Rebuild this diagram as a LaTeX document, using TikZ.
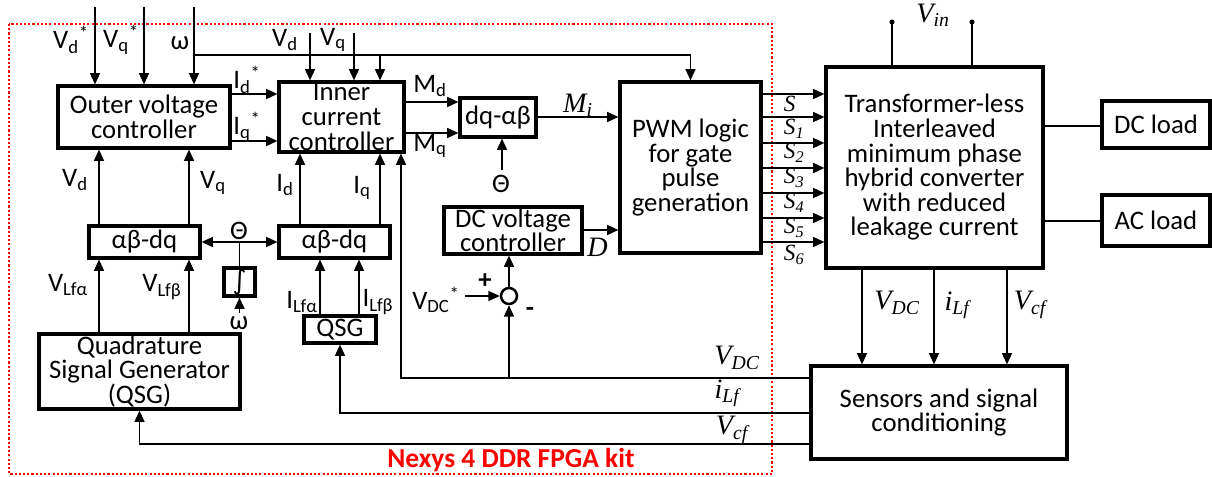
\documentclass[tikz,border=0pt]{standalone}
\usepackage{fontspec}
\setmainfont{Carlito}
\newfontfamily\tnr{Liberation Serif}
\newfontfamily\dejavu{DejaVu Sans}
\usepackage{xcolor}
\definecolor{Kit}{HTML}{FF0000}
\usepackage{tikz}
\usetikzlibrary{arrows.meta}
\newcommand{\ml}[3][20]{{\tnr\itshape\fontsize{#1}{#1}\selectfont #2\textsubscript{#3}}}

\begin{document}
\begin{tikzpicture}[x=0.025cm,y=-0.025cm,line width=1.3pt,
  font=\fontsize{19}{17.5}\selectfont,
  blk/.style={draw,line width=2.2pt,align=center,inner sep=0pt},
  arr/.style={-{Triangle[length=8pt,width=7pt]}},
  lbl/.style={inner sep=0pt}]
\useasboundingbox (0,0) rectangle (1212,477);
% FPGA kit frame
\draw[Kit,line width=1.5pt,dash pattern=on 1.5pt off 1.5pt] (9,24) rectangle (772,474);
\node[lbl,Kit,font=\fontsize{19.5}{19}\selectfont\bfseries] (kit) at (511,460) {Nexys 4 DDR FPGA kit};
% blocks
\node[blk,minimum width=4.3cm,minimum height=1.55cm] (outer) at (144,117) {Outer voltage\\controller};
\node[blk,minimum width=3.125cm,minimum height=1.75cm] (inner) at (341.5,117) {Inner\\current\\controller};
\node[blk,minimum width=1.9cm,minimum height=0.975cm] (dqab) at (498,117.5) {dq-αβ};
\node[blk,minimum width=3.525cm,minimum height=4.275cm] (pwm) at (690.5,167.5) {PWM logic\\for gate\\pulse\\generation};
\node[blk,minimum width=3.45cm,minimum height=1.175cm] (dcv) at (513,230.5) {DC voltage\\controller};
\node[draw,circle,line width=1.8pt,minimum size=0.4cm,inner sep=0pt] (sum) at (509,296) {};
\node[blk,minimum width=5.425cm,minimum height=5.025cm] (conv) at (934.5,167.5) {Transformer-less\\Interleaved\\minimum phase\\hybrid converter\\with reduced\\leakage current};
\node[blk,minimum width=2.7cm,minimum height=1.175cm] (dcload) at (1156,124.5) {DC load};
\node[blk,minimum width=2.7cm,minimum height=1.275cm] (acload) at (1156,220.5) {AC load};
\node[blk,minimum width=6.4cm,minimum height=2.325cm] (sens) at (939,412.5) {Sensors and signal\\conditioning};
\node[blk,minimum width=2.775cm,minimum height=0.8cm] (abdqv) at (144.5,242) {αβ-dq};
\node[blk,minimum width=2.775cm,minimum height=0.8cm] (abdqi) at (334.5,242) {αβ-dq};
\node[blk,minimum width=0.775cm,minimum height=0.7cm] (integ) at (239.5,282) {\dejavu ∫};
\node[blk,minimum width=1.8cm,minimum height=0.675cm] (qsgi) at (340,329.5) {QSG};
\node[blk,minimum width=5.025cm,minimum height=1.875cm] (qsgv) at (139.5,371.5) {Quadrature\\Signal Generator\\(QSG)};
% references into the outer loop
\coordinate (vdref) at (95,7);
\coordinate (vqref) at (144,7);
\coordinate (wref) at (194,7);
\coordinate (wtap) at (194,55);
\coordinate (wtapi) at (380,55);
\draw[arr] (vdref) -- (vdref |- outer.north);
\draw[arr] (vqref) -- (vqref |- outer.north);
\draw[arr] (wref) -- (wref |- outer.north);
\draw[arr] (wtap) -| (pwm.north);
\draw[arr] (wtapi) -- (wtapi |- inner.north);
\coordinate (vdin) at (310,33);
\coordinate (vqin) at (354,33);
\draw[arr] (vdin) -- (vdin |- inner.north);
\draw[arr] (vqin) -- (vqin |- inner.north);
\node[lbl] (lvdref) at (71,40) {V\textsubscript{d}\textsuperscript{*}};
\node[lbl] (lvqref) at (121,40) {V\textsubscript{q}\textsuperscript{*}};
\node[lbl] (lwref) at (180,43) {ω};
\node[lbl] (lvdin) at (285,40) {V\textsubscript{d}};
\node[lbl] (lvqin) at (333,40) {V\textsubscript{q}};
% current references and modulation
\draw[arr] (outer.east |- 0,94) -- (inner.west |- 0,94);
\draw[arr] (outer.east |- 0,141) -- (inner.west |- 0,141);
\node[lbl] (lidref) at (247,80) {I\textsubscript{d}\textsuperscript{*}};
\node[lbl] (liqref) at (247,127) {I\textsubscript{q}\textsuperscript{*}};
\draw[arr] (inner.east |- 0,102) -- (dqab.west |- 0,102);
\draw[arr] (inner.east |- 0,133) -- (dqab.west |- 0,133);
\node[lbl] (lmd) at (430,86) {M\textsubscript{d}};
\node[lbl] (lmq) at (430,146) {M\textsubscript{q}};
\coordinate (thdq) at (502,170);
\draw[arr] (thdq) -- (thdq |- dqab.south);
\node[lbl] (lthdq) at (501,184) {Θ};
\draw[arr] (dqab.east |- 0,117) -- (pwm.west |- 0,117);
\node[lbl] (lmi) at (578,105) {\ml{M}{i}};
\draw[arr] (dcv.east |- 0,230) -- (pwm.west |- 0,230);
\node[lbl] (ld) at (598,249) {\ml{D}{}};
% DC voltage loop
\coordinate (vdcref) at (465,296);
\draw[arr] (vdcref) -- (sum.west);
\draw[arr] (sum.north) -- (sum.north |- dcv.south);
\node[lbl] (lvdcref) at (436,300) {V\textsubscript{DC}\textsuperscript{*}};
\node[lbl] (lplus) at (485,281) {\textbf{+}};
\node[lbl] (lminus) at (530,312) {\textbf{-}};
% gate signals
\foreach \y/\ly/\s in {94/106/{},117/129/1,143/153/2,168/178/3,193/203/4,218/228/5,242/255/6}{
  \draw[arr] (pwm.east |- 0,\y) -- (conv.west |- 0,\y);
  \node[lbl,anchor=west] (s\s) at (783,\ly) {\ml[16.5]{S}{\s}};
}
% converter terminals and loads
\foreach \x/\n in {892/a,972/b}{
  \coordinate (vin\n) at (\x,22);
  \fill (vin\n) circle (1.8pt);
  \draw (vin\n) -- (vin\n |- conv.north);
}
\node[lbl] (lvin) at (933,15) {\ml{V}{in}};
\draw (conv.east |- 0,126) -- (dcload.west |- 0,126);
\draw (conv.east |- 0,221) -- (acload.west |- 0,221);
% measured quantities
\foreach \x in {862,934,1007} \draw[arr] (conv.south -| \x,0) -- (sens.north -| \x,0);
\node[lbl] (lvdcm) at (897,303) {\ml{V}{DC}};
\node[lbl] (lilfm) at (957,305) {\ml{i}{Lf}};
\node[lbl] (lvcfm) at (1030,305) {\ml{V}{cf}};
% feedback into the kit
\draw[arr] (sens.west |- 0,378) -| (inner.south -| 401,0);
\draw[arr] (sum.south |- 0,378) -- (sum.south);
\draw[arr] (sens.west |- 0,413) -| (qsgi.south);
\draw[arr] (sens.west |- 0,444) -| (qsgv.south);
\node[lbl] (lvdcf) at (737,358) {\ml{V}{DC}};
\node[lbl] (lilff) at (727,393) {\ml{i}{Lf}};
\node[lbl] (lvcff) at (732,430) {\ml{V}{cf}};
% frame transformations
\foreach \x in {99,189}{
  \draw[arr] (abdqv.north -| \x,0) -- (outer.south -| \x,0);
  \draw[arr] (qsgv.north -| \x,0) -- (abdqv.south -| \x,0);
}
\draw[arr] (abdqi.north -| 300,0) -- (inner.south -| 300,0);
\draw[arr] (abdqi.north -| 380,0) -- (inner.south -| 380,0);
\draw[arr] (qsgi.north -| 320,0) -- (abdqi.south -| 320,0);
\draw[arr] (qsgi.north -| 359,0) -- (abdqi.south -| 359,0);
\node[lbl] (lvd) at (75,180) {V\textsubscript{d}};
\node[lbl] (lvq) at (213,183) {V\textsubscript{q}};
\node[lbl] (lid) at (285,185) {I\textsubscript{d}};
\node[lbl] (liq) at (362,188) {I\textsubscript{q}};
\node[lbl] (lvlfa) at (68,285) {V\textsubscript{Lfα}};
\node[lbl] (lvlfb) at (162,287) {V\textsubscript{Lfβ}};
\node[lbl] (lilfa) at (302,302) {I\textsubscript{Lfα}};
\node[lbl] (lilfb) at (378,302) {I\textsubscript{Lfβ}};
% angle from the integrator
\draw[{Triangle[length=8pt,width=7pt]}-{Triangle[length=8pt,width=7pt]}] (abdqv.east) -- (abdqi.west);
\draw (integ.north) -- (integ.north |- abdqv.east);
\coordinate (wint) at (239.5,313);
\draw[arr] (wint) -- (integ.south);
\node[lbl] (lthab) at (239,231) {Θ};
\node[lbl] (lwint) at (239,323) {ω};
\end{tikzpicture}
\end{document}
